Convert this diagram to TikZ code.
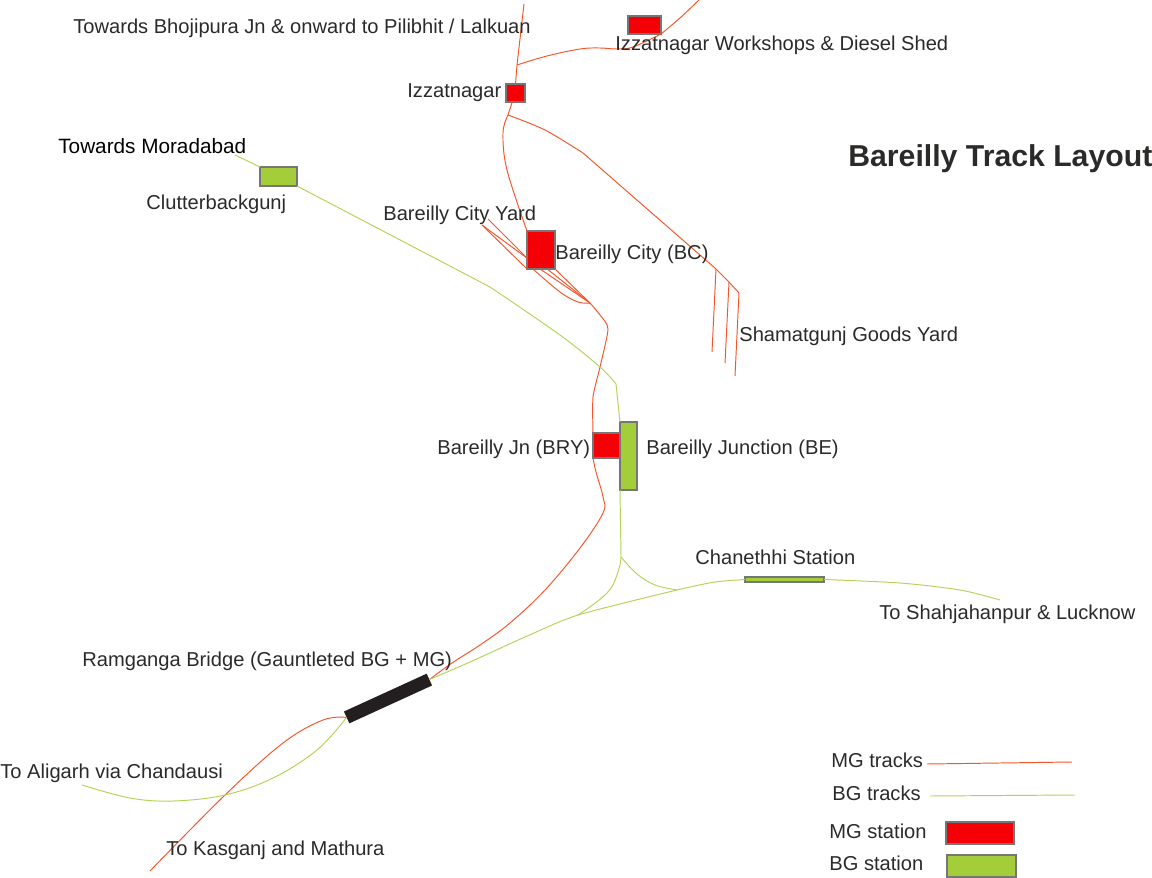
\documentclass[tikz,border=0pt]{standalone}
\usepackage{fontspec}
\setmainfont{Liberation Sans}
\definecolor{mgred}{HTML}{F4552B}
\definecolor{bggreen}{HTML}{B5D35A}
\definecolor{mgfill}{HTML}{F40006}
\definecolor{bgfill}{HTML}{A4CE39}
\definecolor{boxedge}{HTML}{767676}
\definecolor{inktext}{HTML}{2B2A29}
\definecolor{bridgeink}{HTML}{231F20}
\tikzset{
  mgtrack/.style={draw=mgred, line width=0.55pt},
  bgtrack/.style={draw=bggreen, line width=0.55pt},
  stationbox/.style 2 args={draw=boxedge, line width=0.65pt, inner sep=0pt, outer sep=0pt,
    minimum width=#1*0.02cm, minimum height=#2*0.02cm},
  mgstation/.style 2 args={stationbox={#1}{#2}, fill=mgfill},
  bgstation/.style 2 args={stationbox={#1}{#2}, fill=bgfill},
  placename/.style={anchor=base west, inner sep=0pt, text=inktext, font=\fontsize{11.45}{13}\selectfont},
  layouttitle/.style={anchor=base west, inner sep=0pt, text=inktext, font=\fontsize{17.2}{20}\selectfont\bfseries}
}
\begin{document}
\begin{tikzpicture}[x=0.02cm, y=-0.02cm]
      \useasboundingbox (0,0) rectangle (1152,878);

      % Stations
      \node[mgstation={33}{18}] (wks) at (644.5,25) {};
      \node[mgstation={19}{18}] (izn) at (515.5,93) {};
      \node[mgstation={28}{38}] (bc) at (541,250) {};
      \node[mgstation={29}{25}] (bry) at (607.5,445.5) {};
      \node[bgstation={17}{68}] (be) at (628.5,456) {};
      \node[bgstation={37}{19}] (clt) at (278.5,176.5) {};
      \node[bgstation={79}{5}] (chn) at (784.5,579.5) {};
      \node[fill=bridgeink, inner sep=0pt, outer sep=0pt, minimum width=91*0.02cm, minimum height=13*0.02cm, rotate=24.6] (bridge) at (388,698.5) {};

      % Junctions and free track ends
      \coordinate (pbtend) at (524,4);
      \coordinate (wksjn) at (517,65);
      \coordinate (wksend) at (699,0);
      \coordinate (smgjn) at (508,115);
      \coordinate (yarda) at (482,225);
      \coordinate (yardb) at (488,219);
      \coordinate (cityjn) at (590,303);
      \coordinate (smga) at (716,269);
      \coordinate (smgb) at (729,282);
      \coordinate (smgc) at (739,293);
      \coordinate (smgaend) at (712,352);
      \coordinate (smgbend) at (725,363);
      \coordinate (smgcend) at (735,376);
      \coordinate (kasend) at (150,871);
      \coordinate (algend) at (82,785);
      \coordinate (modend) at (235,155);
      \coordinate (lkoend) at (1000,600);
      \coordinate (bgsplit) at (621,557);
      \coordinate (bgmerge) at (578,615);
      \coordinate (chnjn) at (677,590);

      % MG tracks, north of Bareilly
      \draw[mgtrack] (pbtend) -- (wksjn) -- (izn.north);
      \draw[mgtrack] plot[smooth, tension=0.6] coordinates {(wksjn) (547,56) (580,49) (600,48) (617,49) (633,47) (wks.south east)};
      \draw[mgtrack] plot[smooth, tension=0.6] coordinates {(wks.south east) (680,18) (wksend)};
      \draw[mgtrack] (izn.-110) -- (smgjn);
      \draw[mgtrack] plot[smooth, tension=0.6] coordinates {(smgjn) (503,133) (507,170) (527,231)};
      \draw[mgtrack] plot[smooth, tension=0.5] coordinates {(smgjn) (545,130) (583,153)};
      \draw[mgtrack] (583,153) -- (smga) -- (smgb) -- (smgc);
      \draw[mgtrack] (smga) -- (smgaend);
      \draw[mgtrack] (smgb) -- (smgbend);
      \draw[mgtrack] (smgc) -- (smgcend);

      % City yard
      \draw[mgtrack] (yarda) -- (bc.210);
      \draw[mgtrack] (yardb) -- (bc.210);
      \draw[mgtrack] (yarda) -- (bc.south west);
      \draw[mgtrack] plot[smooth, tension=0.6] coordinates {(bc.-113) (560,292) (578,302) (cityjn)};
      \draw[mgtrack] (bc.-93) -- (cityjn);
      \draw[mgtrack] (bc.-72) -- (cityjn);
      \draw[mgtrack] (bc.south east) -- (cityjn);

      % MG main line
      \draw[mgtrack] plot[smooth, tension=0.4] coordinates {(cityjn) (600,315) (608,329) (600,367) (593,397) (bry.north west)};
      \draw[mgtrack] plot[smooth, tension=0.6] coordinates {(bry.south west) (596,472) (603,497) (603,513) (580,548) (545,590) (510,623) (480,645) (452,663) (bridge.east)};
      \draw[mgtrack] plot[smooth, tension=0.6] coordinates {(bridge.west) (323,720) (283,743) (225,795) (kasend)};

      % BG tracks
      \draw[bgtrack] (modend) -- (clt.north west);
      \draw[bgtrack] (clt.south east) -- (490,287);
      \draw[bgtrack] plot[smooth, tension=0.5] coordinates {(490,287) (560,335) (600,367) (616,384)};
      \draw[bgtrack] (616,384) -- (be.north west);
      \draw[bgtrack] (be.south west) -- (bgsplit);
      \draw[bgtrack] plot[smooth, tension=0.7] coordinates {(bgsplit) (618,572) (607,593) (bgmerge)};
      \draw[bgtrack] plot[smooth, tension=0.6] coordinates {(bgsplit) (637,574) (655,585) (chnjn)};
      \draw[bgtrack] plot[smooth, tension=0.4] coordinates {(chn.west) (715,582) (chnjn) (bgmerge) (525,637) (470,662) (bridge.east)};
      \draw[bgtrack] plot[smooth, tension=0.5] coordinates {(chn.east) (900,583) (960,590) (lkoend)};
      \draw[bgtrack] plot[smooth, tension=0.6] coordinates {(bridge.west) (317,750) (273,778) (225,795) (173,801) (130,798) (algend)};

      % Labels
      \node[placename] (lblpbt) at (73,33.5) {Towards Bhojipura Jn \& onward to Pilibhit / Lalkuan};
      \node[placename] (lblwks) at (615,50.5) {Izzatnagar Workshops \& Diesel Shed};
      \node[placename] (lblizn) at (407,98) {Izzatnagar};
      \node[layouttitle] (title) at (848,167) {Bareilly Track Layout};
      \node[placename, text=black, font=\fontsize{11.8}{13}\selectfont] (lblmod) at (58,154) {Towards Moradabad};
      \node[placename] (lblclt) at (146,210) {Clutterbackgunj};
      \node[placename] (lblyard) at (383,221) {Bareilly City Yard};
      \node[placename] (lblbc) at (555,260) {Bareilly City (BC)};
      \node[placename] (lblsmg) at (739,341) {Shamatgunj Goods Yard};
      \node[placename] (lblbry) at (437,454) {Bareilly Jn (BRY)};
      \node[placename] (lblbe) at (646,454) {Bareilly Junction (BE)};
      \node[placename] (lblchn) at (695,564) {Chanethhi Station};
      \node[placename] (lbllko) at (879,619) {To Shahjahanpur \& Lucknow};
      \node[placename] (lblbridge) at (82,666) {Ramganga Bridge (Gauntleted BG + MG)};
      \node[placename] (lblalg) at (0,778) {To Aligarh via Chandausi};
      \node[placename] (lblkas) at (166,855) {To Kasganj and Mathura};

      % Legend
      \node[placename] (keymg) at (831,767) {MG tracks};
      \node[placename] (keybg) at (832,800) {BG tracks};
      \node[placename] (keymgs) at (829,838) {MG station};
      \node[placename] (keybgs) at (829,870) {BG station};
      \coordinate (keymgend) at (1072,762);
      \coordinate (keybgend) at (1075,795);
      \draw[mgtrack] (927,764) -- (keymgend);
      \draw[bgtrack] (930,796) -- (keybgend);
      \node[mgstation={68}{22}] (keymgbox) at (980,833) {};
      \node[bgstation={69}{22}] (keybgbox) at (981.5,866) {};
\end{tikzpicture}
\end{document}
